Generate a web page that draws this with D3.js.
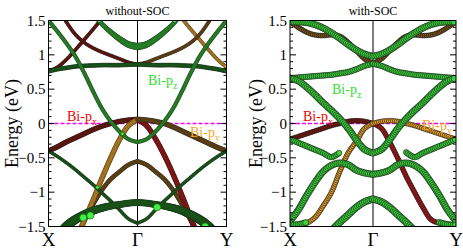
<!DOCTYPE html>
<html>
<head>
<meta charset="utf-8">
<script src="https://cdn.jsdelivr.net/npm/d3@7"></script>
<style>
  body { margin: 0; background: #fff; }
  svg { display: block; }
</style>
</head>
<body>
<svg id="chart" width="463" height="250" font-family="'Liberation Serif', 'DejaVu Serif', serif"></svg>
<script>
// k path: X = 0, Gamma = 1, Y = 2 (sampled every 0.1)
const kPath = d3.range(21).map(i => i / 10);
const kNames = ["X", "Γ", "Y"];
const yTicks = [-1.5, -1, -0.5, 0, 0.5, 1, 1.5];

// ---- without SOC (energies in eV, null = out of window) ----
const woPzSteep = [1.5, 1.34, 1.17, 0.98, 0.74, 0.47, 0.22, 0.03, -0.12, -0.23, -0.27,
                   -0.23, -0.12, 0.03, 0.22, 0.47, 0.74, 0.98, 1.17, 1.34, 1.5];
const woPzBowl = [null, null, null, null, 1.78, 1.6, 1.45, 1.33, 1.23, 1.15, 1.12,
                  1.15, 1.23, 1.33, 1.45, 1.6, 1.78, null, null, null, null];
const woPzBowlW = [0, 0, 0, 0, 0.5, 0.55, 0.6, 0.7, 0.8, 0.9, 1, 0.9, 0.8, 0.7, 0.6, 0.55, 0.5, 0, 0, 0, 0];
const woFlat = [0.76, 0.79, 0.81, 0.83, 0.84, 0.845, 0.85, 0.85, 0.85, 0.855, 0.86,
                0.855, 0.85, 0.85, 0.85, 0.845, 0.84, 0.83, 0.81, 0.79, 0.76];
const woUpperRise = [0.76, 0.82, 0.93, 1.07, 1.22, 1.37, 1.53, 1.7, null, null, null,
                     null, null, null, 1.7, 1.53, 1.37, 1.22, 1.07, 0.93, 0.82];
const woUpperFall = [null, 1.7, 1.48, 1.3, 1.18, 1.1, 1.04, 0.99, 0.94, 0.89, 0.86,
                     0.89, 0.94, 0.99, 1.04, 1.1, 1.18, 1.3, 1.48, 1.7, null];
const woVbPx = [-0.40, -0.34, -0.27, -0.21, -0.15, -0.09, -0.04, 0.0, 0.03, 0.05, 0.06,
                -0.03, -0.22, -0.46, -0.74, -1.05, -1.38, -1.7, null, null, null];
const woVbPy = [null, null, null, -1.72, -1.42, -1.12, -0.80, -0.50, -0.23, -0.03, 0.06,
                0.05, 0.03, 0.0, -0.05, -0.11, -0.17, -0.23, -0.29, -0.35, -0.40];
const woDome = [null, null, null, -1.7, -1.42, -1.18, -0.97, -0.81, -0.70, -0.60, -0.55,
                -0.60, -0.70, -0.81, -0.97, -1.18, -1.42, -1.7, null, null, null];
const woThinG = [-0.40, -0.48, -0.57, -0.67, -0.78, -0.89, -1.01, -1.13, -1.26, -1.39, -1.45,
                 -1.39, -1.26, -1.13, -1.01, -0.89, -0.78, -0.67, -0.57, -0.48, -0.40];
const woThickG = [null, -1.65, -1.50, -1.40, -1.33, -1.27, -1.23, -1.20, -1.18, -1.16, -1.15,
                  -1.16, -1.18, -1.20, -1.23, -1.27, -1.33, -1.40, -1.50, -1.65, null];
const woThickGW = [1, 1, 1, 0.95, 0.9, 0.85, 0.8, 0.75, 0.72, 0.7, 0.7, 0.7, 0.72, 0.75, 0.8, 0.85, 0.9, 0.95, 1, 1, 1];
const woDots = [[0, 1.5], [0.57, 1.5], [1.42, 1.5], [2, 1.5], [0.39, -1.37], [0.47, -1.34],
                [1.22, -1.22], [1.76, -1.5], [0.55, -0.93], [0.83, -0.15]];
const woDotsW = [0.3, 0.3, 0.3, 0.3, 0.8, 0.8, 0.8, 0.8, 0.2, 0.2];

// ---- with SOC ----
const soTopG = [1.48, 1.48, 1.47, 1.44, 1.39, 1.32, 1.24, 1.15, 1.07, 1.01, 0.98,
                1.01, 1.07, 1.15, 1.24, 1.32, 1.39, 1.44, 1.47, 1.48, 1.48];
const soTopB = [1.48, 1.40, 1.33, 1.29, 1.28, 1.29, 1.27, 1.18, 1.06, 0.94, 0.87,
                0.94, 1.06, 1.18, 1.27, 1.29, 1.28, 1.29, 1.33, 1.40, 1.48];
const soFlat = [0.66, 0.67, 0.68, 0.69, 0.70, 0.71, 0.73, 0.75, 0.79, 0.84, 0.87,
                0.84, 0.79, 0.75, 0.73, 0.71, 0.70, 0.69, 0.68, 0.67, 0.66];
const soPz = [0.66, 0.62, 0.53, 0.42, 0.30, 0.19, 0.07, -0.07, -0.24, -0.38, -0.43,
              -0.38, -0.24, -0.07, 0.07, 0.19, 0.30, 0.42, 0.53, 0.62, 0.66];
const soVbPx = [-0.23, -0.19, -0.15, -0.11, -0.07, -0.03, 0.0, 0.03, 0.04, 0.03, 0.0,
                -0.07, -0.27, -0.51, -0.77, -1.0, -1.22, -1.40, -1.45, -1.47, -1.48];
const soVbPy = [-1.48, -1.47, -1.45, -1.37, -1.20, -1.0, -0.70, -0.43, -0.26, -0.07, 0.0,
                0.03, 0.04, 0.03, 0.0, -0.03, -0.07, -0.11, -0.15, -0.19, -0.23];
const soLowG = [-1.48, -1.47, -1.44, null, null, null, null, null, null, null, null,
                null, null, null, null, null, null, null, -1.44, -1.47, -1.48];
const soG1 = [-0.23, -0.28, -0.33, -0.38, -0.43, -0.49, -0.42, null, null, null, null,
              null, null, null, -0.42, -0.49, -0.43, -0.38, -0.33, -0.28, -0.23];
const soG2 = [-1.42, -1.26, -1.05, -0.86, -0.70, -0.61, -0.575, -0.60, -0.68, -0.72, -0.74,
              -0.72, -0.68, -0.60, -0.575, -0.61, -0.70, -0.86, -1.05, -1.26, -1.42];
const soDome = [null, null, null, null, null, -1.56, -1.44, -1.33, -1.22, -1.14, -1.10,
                -1.14, -1.22, -1.33, -1.44, -1.56, null, null, null, null, null];

const palette = {
  g: "#2fae2f", gd: "#1e6e1e", lg: "#44ee44",
  r: "#b01818", rd: "#7a1a10", o: "#e8a028", b: "#7a5418",
  sg: "#3ad23a"
};

const panels = [
  {
    title: "without-SOC", xr: [48.5, 226.5], yTitleX: 18,
    bands: [
      { e: woUpperRise, c: ["rd", "o"], r: 1.6 },
      { e: woUpperFall, c: ["rd", "b"], r: 1.6 },
      { e: woFlat, c: ["gd", "gd"], r: 2 },
      { e: woDome, c: ["b", "b"], r: 2 },
      { e: woVbPx, c: ["rd", "r"], r: 2.4 },
      { e: woVbPy, c: ["o", "b"], r: 2.4 },
      { e: woThinG, c: ["gd", "gd"], r: 1.5 },
      { e: woThickG, c: ["gd", "gd"], r: 4.5, w: woThickGW },
      { e: woPzBowl, c: ["g", "g"], r: 3.4, w: woPzBowlW },
      { e: woPzSteep, c: ["g", "g"], r: 1.8 }
    ],
    step: 1, stroke: 0.35, dots: woDots, dotsW: woDotsW,
    labels: [
      { t: "Bi-p", s: "z", x: 148, y: 85, c: "#33dd33" },
      { t: "Bi-p", s: "x", x: 67, y: 121, c: "#ee0000" },
      { t: "Bi-p", s: "y", x: 190, y: 137, c: "#f5a623" }
    ]
  },
  {
    title: "with-SOC", xr: [290, 456], yTitleX: 262,
    bands: [
      { e: soTopB, c: ["b", "b"], r: 2.4 },
      { e: soVbPx, c: ["rd", "r"], r: 2.4 },
      { e: soVbPy, c: ["o", "o"], r: 2.4 },
      { e: soFlat, c: ["sg", "sg"], r: 2.8 },
      { e: soTopG, c: ["sg", "sg"], r: 3.2 },
      { e: soPz, c: ["sg", "sg"], r: 3.2 },
      { e: soG1, c: ["sg", "sg"], r: 2.8 },
      { e: soG2, c: ["sg", "sg"], r: 3.2 },
      { e: soLowG, c: ["sg", "sg"], r: 3 },
      { e: soDome, c: ["sg", "sg"], r: 3.4 }
    ],
    step: 2, stroke: 0.6, dots: [], dotsW: [],
    labels: [
      { t: "Bi-p", s: "z", x: 332, y: 94, c: "#33dd33" },
      { t: "Bi-p", s: "x", x: 303, y: 121, c: "#ee0000" },
      { t: "Bi-p", s: "y", x: 422, y: 130, c: "#f5a623" }
    ]
  }
];

const svg = d3.select("#chart");
const yTop = 20.5, yBot = 226.5;
const serif = "'Liberation Serif', 'DejaVu Serif', serif";

function weightAt(w, k) {
  const i = Math.max(0, Math.min(19, Math.floor(k * 10)));
  const f = k * 10 - i;
  return w[i] * (1 - f) + w[i + 1] * f;
}

panels.forEach((p, pi) => {
  const x = d3.scaleLinear().domain([0, 2]).range(p.xr);
  const y = d3.scaleLinear().domain([-1.5, 1.5]).range([yBot, yTop]);
  const g = svg.append("g");

  g.append("clipPath").attr("id", "clip" + pi)
    .append("rect").attr("x", p.xr[0]).attr("y", yTop)
    .attr("width", p.xr[1] - p.xr[0]).attr("height", yBot - yTop);

  const plot = g.append("g").attr("clip-path", "url(#clip" + pi + ")");

  // Fermi level
  plot.append("line")
    .attr("x1", p.xr[0]).attr("x2", p.xr[1])
    .attr("y1", y(0)).attr("y2", y(0))
    .attr("stroke", "#ff00ff").attr("stroke-width", 1.3)
    .attr("stroke-dasharray", "4,2");

  // Gamma line
  plot.append("line")
    .attr("x1", x(1)).attr("x2", x(1))
    .attr("y1", yTop).attr("y2", yBot)
    .attr("stroke", "#000").attr("stroke-width", 1);

  const line = d3.line()
    .x(d => x(d[0])).y(d => y(d[1]))
    .curve(d3.curveCatmullRom.alpha(0.5));

  p.bands.forEach(b => {
    [[0, 10], [10, 20]].forEach((seg, si) => {
      const pts = [];
      for (let i = seg[0]; i <= seg[1]; i++) {
        if (b.e[i] != null) pts.push([kPath[i], b.e[i]]);
      }
      if (pts.length < 2) return;
      const path = plot.append("path").attr("d", line(pts)).attr("fill", "none");
      const node = path.node();
      const L = node.getTotalLength();
      const marks = [];
      for (let s = 0; s <= L; s += p.step) {
        const q = node.getPointAtLength(s);
        const k = x.invert(q.x);
        const rr = b.w ? b.r * weightAt(b.w, k) : b.r;
        marks.push({ x: q.x, y: q.y, r: Math.max(rr, 0.8) });
      }
      path.remove();
      plot.append("g").selectAll("circle")
        .data(marks)
        .join("circle")
        .attr("cx", d => d.x).attr("cy", d => d.y).attr("r", d => d.r)
        .attr("fill", palette[b.c[si]])
        .attr("stroke", "#151515").attr("stroke-width", p.stroke);
    });
  });

  plot.append("g").selectAll("circle")
    .data(p.dots)
    .join("circle")
    .attr("cx", d => x(d[0])).attr("cy", d => y(d[1]))
    .attr("r", (d, i) => 1.2 + 3 * p.dotsW[i])
    .attr("fill", palette.lg).attr("stroke", "#0a5a0a").attr("stroke-width", 0.6);

  // orbital labels
  p.labels.forEach(l => {
    const t = g.append("text").attr("x", l.x).attr("y", l.y)
      .attr("font-family", serif)
      .attr("fill", l.c).style("font-size", "14px").text(l.t);
    t.append("tspan").attr("dy", 4).style("font-size", "10px").text(l.s);
  });

  // frame
  g.append("rect")
    .attr("x", p.xr[0]).attr("y", yTop)
    .attr("width", p.xr[1] - p.xr[0]).attr("height", yBot - yTop)
    .attr("fill", "none").attr("stroke", "#000").attr("stroke-width", 1);

  // ticks on both sides, pointing inward
  const minor = d3.range(-1.5, 1.5001, 0.1);
  [p.xr[0], p.xr[1]].forEach((xe, side) => {
    const dir = side === 0 ? 1 : -1;
    g.append("g").selectAll("line")
      .data(minor)
      .join("line")
      .attr("x1", xe).attr("x2", d => {
        const major = Math.abs(d * 2 - Math.round(d * 2)) < 1e-6;
        return xe + dir * (major ? 6 : 3);
      })
      .attr("y1", d => y(d)).attr("y2", d => y(d))
      .attr("stroke", "#000").attr("stroke-width", 1);
  });

  // y tick labels
  g.append("g").selectAll("text")
    .data(yTicks)
    .join("text")
    .attr("x", p.xr[0] - 3).attr("y", d => y(d) + 5)
    .attr("text-anchor", "end")
    .attr("font-family", serif)
    .style("font-size", "15px")
    .text(d => d3.format("")(d));

  // k labels
  g.append("g").selectAll("text")
    .data(kNames)
    .join("text")
    .attr("x", (d, i) => x(i)).attr("y", 246)
    .attr("text-anchor", "middle")
    .attr("font-family", serif)
    .style("font-size", "19px")
    .text(d => d);

  // title
  g.append("text")
    .attr("x", x(1)).attr("y", 15)
    .attr("text-anchor", "middle")
    .attr("font-family", serif)
    .style("font-size", "12px")
    .text(p.title);

  // y axis title
  g.append("text")
    .attr("transform", "translate(" + p.yTitleX + "," + ((yTop + yBot) / 2) + ") rotate(-90)")
    .attr("text-anchor", "middle")
    .attr("font-family", serif)
    .style("font-size", "18px")
    .text("Energy (eV)");
});
</script>
</body>
</html>
